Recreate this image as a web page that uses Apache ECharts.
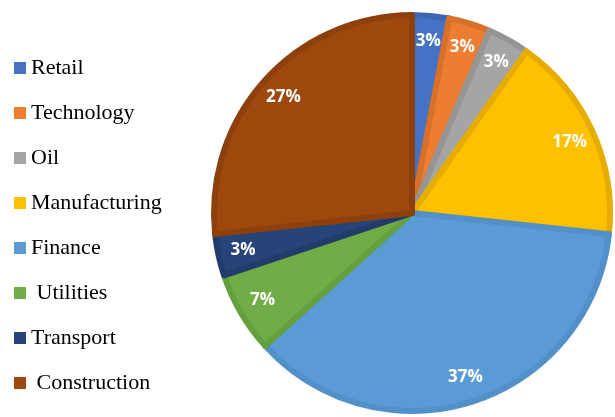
<!DOCTYPE html>
<html>
<head>
<meta charset="utf-8">
<script src="https://cdn.jsdelivr.net/npm/echarts@6/dist/echarts.min.js"></script>
<style>
  html, body { margin: 0; padding: 0; background: #fff; }
  #main { width: 615px; height: 417px; }
</style>
</head>
<body>
<div id="main"></div>
<script>
// sectors, clockwise from 12 o'clock
var sectors = ['Retail', 'Technology', 'Oil', 'Manufacturing', 'Finance', 'Utilities', 'Transport', 'Construction'];
var shares = [3.0, 3.4, 3.4, 16.9, 36.6, 6.6, 3.4, 26.7];
var fills = ['#4472C4', '#ED7D31', '#A5A5A5', '#FFC000', '#5B9BD5', '#70AD47', '#264478', '#9E480E'];
var edges = ['#3D67B2', '#D8702A', '#959595', '#E6AD00', '#5190C8', '#65A03F', '#213C6B', '#8E400C'];

var chart = echarts.init(document.getElementById('main'));

var pieData = sectors.map(function (s, i) {
  return {
    name: s,
    value: shares[i],
    itemStyle: { color: fills[i], borderColor: edges[i], borderWidth: 6 }
  };
});

// transparent ring only used to put labels near the rim
var labelData = sectors.map(function (s, i) {
  return { name: s, value: shares[i], itemStyle: { color: 'transparent' } };
});

var option = {
  backgroundColor: '#fff',
  animation: false,
  legend: {
    orient: 'vertical',
    left: 9,
    top: 52,
    itemWidth: 12,
    itemHeight: 12,
    itemGap: 23,
    icon: 'rect',
    data: sectors,
    itemStyle: { borderWidth: 0 },
    formatter: function (name) {
      // Utilities and Construction sit a touch further right in the original
      return (name === 'Utilities' || name === 'Construction') ? ' ' + name : name;
    },
    textStyle: {
      fontFamily: 'Liberation Serif',
      fontSize: 22,
      color: '#000'
    }
  },
  series: [
    {
      type: 'pie',
      center: [412, 213],
      radius: [0, 198],
      startAngle: 90,
      clockwise: true,
      silent: true,
      label: { show: false },
      labelLine: { show: false },
      data: pieData
    },
    {
      type: 'pie',
      center: [412, 213],
      radius: [140, 200],
      startAngle: 90,
      clockwise: true,
      silent: true,
      percentPrecision: 0,
      label: {
        show: true,
        position: 'inside',
        formatter: '{d}%',
        color: '#fff',
        fontFamily: 'Open Sans',
        fontWeight: 'bold',
        fontSize: 17
      },
      labelLine: { show: false },
      data: labelData
    }
  ]
};

chart.setOption(option);
</script>
</body>
</html>
